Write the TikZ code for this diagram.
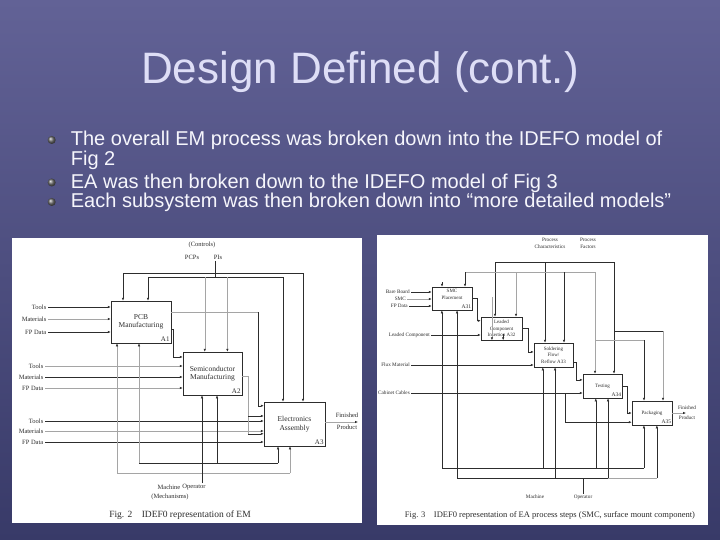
\documentclass[tikz,border=0pt]{standalone}
\usepackage{fontspec}
\setmainfont{Liberation Sans}
\newfontfamily\scanfont{Liberation Serif}
\usetikzlibrary{arrows.meta,calc,positioning}
\definecolor{SlideTop}{RGB}{98,98,150}
\definecolor{SlideBot}{RGB}{56,58,104}
\definecolor{TitleLilac}{RGB}{222,222,246}
\definecolor{BulletInk}{RGB}{246,246,252}
\definecolor{ScanInk}{RGB}{45,45,45}
\definecolor{ScanFaint}{RGB}{165,165,165}

\tikzset{
  slidetitle/.style={font=\fontsize{44}{48}\selectfont, text=TitleLilac, inner sep=0pt, anchor=base},
  pointtext/.style={font=\fontsize{20}{17.6}\selectfont, text=BulletInk, inner sep=0pt, anchor=north west, align=left},
  pointdot/.style={circle, minimum size=8pt, inner sep=0pt, ball color=gray!85!black},
  proc/.style={draw=ScanInk, line width=0.5pt, fill=white, inner sep=0pt, align=center, text=ScanInk,
    font=\scanfont\fontsize{7.5}{8.5}\selectfont},
  smallproc/.style={proc, font=\scanfont\fontsize{5}{6.6}\selectfont},
  boxid/.style={font=\scanfont\fontsize{7}{7}\selectfont, text=ScanInk, inner sep=1.5pt, anchor=south east},
  smallid/.style={boxid, font=\scanfont\fontsize{5.5}{6}\selectfont, inner sep=1pt},
  tag/.style={font=\scanfont\fontsize{6.5}{7.2}\selectfont, text=ScanInk, inner sep=1.5pt, align=center},
  smalltag/.style={tag, font=\scanfont\fontsize{5.2}{6.4}\selectfont, inner sep=1pt},
  figcaption/.style={font=\scanfont\fontsize{9.5}{10}\selectfont, text=ScanInk, inner sep=0pt},
  wire/.style={draw=ScanInk, line width=0.5pt},
  faint/.style={draw=ScanFaint, line width=0.5pt},
  flow/.style={wire, -{Latex[length=3pt,width=2.4pt]}},
  faintflow/.style={faint, -{Latex[length=3pt,width=2.4pt,color=ScanInk]}}
}

\begin{document}
\begin{tikzpicture}[x=1pt,y=-1pt]
    \useasboundingbox (0,0) rectangle (720,540);
    \shade[top color=SlideTop, bottom color=SlideBot] (0,0) rectangle (720,540);

    \node[slidetitle] (title) at (360,84) {Design Defined (cont.)};

    \node[pointdot] (dot1) at (51.7,140) {};
    \node[pointtext] (pt1) at (70.7,130.9) {The overall EM process was broken down into the IDEFO model of\\Fig 2};
    \node[pointdot] (dot2) at (51.7,182.5) {};
    \node[pointtext] (pt2) at (70.7,173.5) {EA was then broken down to the IDEFO model of Fig 3};
    \node[pointdot] (dot3) at (51.7,202) {};
    \node[pointtext] (pt3) at (70.7,192.9) {Each subsystem was then broken down into “more detailed models”};

    % Fig. 2 -- EM
    \fill[white] (12,238) rectangle (362,523);

    \node[proc, minimum width=60pt, minimum height=42pt] (a1) at (141,322) {PCB\\Manufacturing};
    \node[boxid] (a1id) at (a1.south east) {A1};
    \node[proc, minimum width=59pt, minimum height=43pt] (a2) at (212.5,373.5) {Semiconductor\\Manufacturing};
    \node[boxid] (a2id) at (a2.south east) {A2};
    \node[proc, minimum width=61pt, minimum height=44pt] (a3) at (294.5,424) {Electronics\\Assembly};
    \node[boxid] (a3id) at (a3.south east) {A3};
    \draw[line width=1.1pt, ScanInk] (a2.north east) -- (a2.south east);
    \draw[line width=1.1pt, ScanInk] (a3.north east) -- (a3.south east);

    \node[tag] (ctl2) at (202,245) {(Controls)};
    \node[tag] (pcp) at (192,257) {PCPs};
    \node[tag] (pis) at (218,257) {PIs};
    \coordinate (k1) at (123,273);
    \coordinate (k2) at (303,273);
    \coordinate (m1) at (148,277);
    \coordinate (m2) at (283,277);
    \coordinate (j2) at (215,277);
    \draw[wire] (pis.south -| j2) -- (j2);
    \draw[flow] (k1) -- (k2) -- (k2 |- a3.north);
    \draw[flow] (k1) -- (k1 |- a1.north);
    \draw[flow] (m1) -- (m2) -- (m2 |- a3.north);
    \draw[flow] (m1) -- (m1 |- a1.north);
    \coordinate (a2c1) at ($(a2.north west)!0.37!(a2.north east)$);
    \coordinate (a2c2) at ($(a2.north west)!0.75!(a2.north east)$);
    \draw[faintflow] (a2c1 |- m1) -- (a2c1);
    \draw[faintflow] (a2c2 |- m1) -- (a2c2);

    \node[tag, anchor=east] (a1in1) at (48,307) {Tools};
    \node[tag, anchor=east] (a1in2) at (48,319) {Materials};
    \node[tag, anchor=east] (a1in3) at (48,332) {FP Data};
    \draw[flow] (a1in1.east) -- (a1in1.east -| a1.west);
    \draw[faintflow] (a1in2.east) -- (a1in2.east -| a1.west);
    \draw[flow] (a1in3.east) -- (a1in3.east -| a1.west);

    \node[tag, anchor=east] (a2in1) at (45,366) {Tools};
    \node[tag, anchor=east] (a2in2) at (45,377) {Materials};
    \node[tag, anchor=east] (a2in3) at (45,388) {FP Data};
    \draw[faintflow] (a2in1.east) -- (a2in1.east -| a2.west);
    \draw[flow] (a2in2.east) -- (a2in2.east -| a2.west);
    \draw[faintflow] (a2in3.east) -- (a2in3.east -| a2.west);

    \node[tag, anchor=east] (a3in1) at (45,421) {Tools};
    \node[tag, anchor=east] (a3in2) at (45,431) {Materials};
    \node[tag, anchor=east] (a3in3) at (45,442) {FP Data};
    \draw[flow] (a3in1.east) -- (a3in1.east -| a3.west);
    \draw[faintflow] (a3in2.east) -- (a3in2.east -| a3.west);
    \draw[flow] (a3in3.east) -- (a3in3.east -| a3.west);

    % outputs between the boxes
    \coordinate (o1) at (173,329);
    \coordinate (a2i0) at ($(a2.north west)!0.12!(a2.south west)$);
    \draw[flow] (a1.east |- o1) -- (o1) |- (a2i0);
    \coordinate (o1b) at (258,312);
    \coordinate (a3i0) at ($(a3.north west)!0.09!(a3.south west)$);
    \draw[faint] (a1.east |- o1b) -- (o1b);
    \draw[flow] (o1b) |- (a3i0);
    \coordinate (o2) at (248,376);
    \coordinate (a3i1) at ($(a3.north west)!0.32!(a3.south west)$);
    \coordinate (a3i3) at ($(a3.north west)!0.72!(a3.south west)$);
    \draw[faint] (a2.east |- o2) -- (o2) -- (o2 |- a3i3);
    \draw[flow] (o2 |- a3i1) -- (a3i1);
    \draw[flow] (o2 |- a3i3) -- (a3i3);

    \node[tag] (prod2) at (347,421) {Finished\\[5pt]Product};
    \coordinate (p2) at (358,422);
    \draw[faintflow] (a3.east |- p2) -- (p2);

    % mechanisms
    \coordinate (mb1) at (117,473);
    \coordinate (mb2) at (290,473);
    \coordinate (ob1) at (139,463);
    \coordinate (ob2) at (278,463);
    \coordinate (mech2a) at (202,483);
    \coordinate (mech2b) at (217,463);
    \draw[faint] (mb1) -- (mb2);
    \draw[wire] (ob1) -- (ob2);
    \draw[faintflow] (mb1) -- (mb1 |- a1.south);
    \draw[faintflow] (ob1) -- (ob1 |- a1.south);
    \draw[flow] (mech2a) -- (mech2a |- a2.south);
    \draw[flow] (mech2b) -- (mech2b |- a2.south);
    \draw[faintflow] (mb2) -- (mb2 |- a3.south);
    \draw[flow] (ob2) -- (ob2 |- a3.south);

    \node[tag] (mach2) at (169,487) {Machine};
    \node[tag] (oper2) at (194,487) {Operator};
    \node[tag] (mech2) at (170,497) {(Mechanisms)};
    \node[figcaption] (cap2) at (180,515) {Fig. 2\quad IDEF0 representation of EM};

    % Fig. 3 -- EA process steps
    \fill[white] (377,235) rectangle (708,525);

    \node[smallproc, minimum width=40pt, minimum height=23pt] (b1) at (452,298.5) {SMC\\Placement\\[2pt]};
    \node[smallid] (b1id) at (b1.south east) {A31};
    \node[smallproc, minimum width=41pt, minimum height=23pt] (b2) at (501.5,328.5) {Leaded\\Component\\Insertion A32};
    \node[smallproc, minimum width=39pt, minimum height=24pt] (b3) at (553.5,355) {Soldering\\Flow/\\Reflow A33};
    \node[smallproc, minimum width=39pt, minimum height=24pt] (b4) at (602.5,386) {Testing};
    \node[smallid] (b4id) at (b4.south east) {A34};
    \node[smallproc, minimum width=40pt, minimum height=24pt] (b5) at (652,413) {Packaging};
    \node[smallid] (b5id) at (b5.south east) {A35};

    \node[smalltag] (pchar) at (550,243.5) {Process\\Characteristics};
    \node[smalltag] (pfac) at (588,243.5) {Process\\Factors};
    \coordinate (u1) at (495,262);
    \coordinate (u2) at (614,262);
    \coordinate (u3) at (545,262);
    \draw[wire] (u1) -- (u2);
    \draw[flow] (u1) -- (u1 |- b2.north);
    \draw[flow] (u3) -- (u3 |- b3.north);
    \draw[flow] (u2) -- (u2 |- b4.north);
    \coordinate (w1) at (465,272);
    \coordinate (w2) at (595,272);
    \coordinate (w3) at (516,272);
    \coordinate (w4) at (564,272);
    \coordinate (w5) at (442,282);
    \draw[faint] (w1) -- (w2);
    \draw[flow] (w1) -- (w1 |- b1.north);
    \draw[flow] (w5) -- (w5 |- b1.north);
    \draw[faintflow] (w3) -- (w3 |- b2.north);
    \draw[flow] (w4) -- (w4 |- b3.north);
    \draw[faintflow] (w2) -- (w2 |- b4.north);
    \coordinate (v1) at (614,331);
    \coordinate (v2) at (663,331);
    \coordinate (v3) at (595,340);
    \coordinate (v4) at (644,340);
    \draw[wire] (v1) -- (v2);
    \draw[faintflow] (v2) -- (v2 |- b5.north);
    \draw[faint] (v3) -- (v4);
    \draw[flow] (v4) -- (v4 |- b5.north);

    \node[smalltag, anchor=east] (bare) at (411,292) {Bare Board};
    \node[smalltag, anchor=east] (smc) at (407,299) {SMC};
    \node[smalltag, anchor=east] (fpd3) at (409,306) {FP Data};
    \draw[flow] (bare.east) -- (bare.east -| b1.west);
    \draw[faintflow] (smc.east) -- (smc.east -| b1.west);
    \draw[flow] (fpd3.east) -- (fpd3.east -| b1.west);
    \node[smalltag, anchor=east] (leaded) at (431,335) {Leaded Component};
    \draw[flow] (leaded.east) -- (leaded.east -| b2.west);
    \node[smalltag, anchor=east] (flux) at (411,365) {Flux Material};
    \draw[flow] (flux.east) -- (flux.east -| b3.west);
    \node[smalltag, anchor=east] (cabinet) at (411,393) {Cabinet Cables};
    \draw[flow] (cabinet.east) -- (cabinet.east -| b4.west);

    \coordinate (o31) at (477,298);
    \coordinate (b2i1) at ($(b2.north west)!0.17!(b2.south west)$);
    \draw[flow] (b1.east |- o31) -- (o31) |- (b2i1);
    \coordinate (o32) at (528,328);
    \coordinate (b3i1) at ($(b3.north west)!0.375!(b3.south west)$);
    \draw[flow] (b2.east |- o32) -- (o32) |- (b3i1);
    \coordinate (o33) at (576,362);
    \coordinate (b4i1) at ($(b4.north west)!0.25!(b4.south west)$);
    \draw[flow] (b3.east |- o33) -- (o33) |- (b4i1);
    \coordinate (o34) at (627,386);
    \coordinate (b5i1) at ($(b5.north west)!0.5!(b5.south west)$);
    \coordinate (b5i2) at ($(b5.north west)!0.875!(b5.south west)$);
    \draw[flow] (b4.east |- o34) -- (o34) |- (b5i1);
    \coordinate (cabk) at (565,393);
    \draw[flow] (cabk) |- (b5i2);

    \node[smalltag] (prod3) at (687,413) {Finished\\[4pt]Product};
    \coordinate (p3) at (686,413);
    \draw[faintflow] (b5.east |- p3) -- (p3);

    % mechanisms
    \coordinate (mm1) at (442,468);
    \coordinate (mm2) at (644,468);
    \coordinate (oo1) at (457,478);
    \coordinate (oo2) at (608,478);
    \draw[wire] (mm1) -- (mm2);
    \draw[wire] (oo1) -- (oo2);
    \coordinate (b1m1) at ($(b1.south west)!0.25!(b1.south east)$);
    \coordinate (b1m2) at ($(b1.south west)!0.625!(b1.south east)$);
    \coordinate (b2m1) at ($(b2.south west)!0.27!(b2.south east)$);
    \coordinate (b2m2) at ($(b2.south west)!0.54!(b2.south east)$);
    \coordinate (b3m1) at ($(b3.south west)!0.23!(b3.south east)$);
    \coordinate (b3m2) at ($(b3.south west)!0.54!(b3.south east)$);
    \coordinate (b4m1) at ($(b4.south west)!0.33!(b4.south east)$);
    \coordinate (b4m2) at ($(b4.south west)!0.64!(b4.south east)$);
    \coordinate (b5m1) at ($(b5.south west)!0.3!(b5.south east)$);
    \coordinate (b5m2) at ($(b5.south west)!0.62!(b5.south east)$);
    \draw[flow] (b1m1 |- mm1) -- (b1m1);
    \draw[flow] (b1m2 |- oo1) -- (b1m2);
    \draw[faintflow] ([yshift=43pt]b2m1) -- (b2m1);
    \draw[flow] ([yshift=6pt]b2m2) -- (b2m2);
    \draw[flow] (b3m1 |- mm1) -- (b3m1);
    \draw[flow] (b3m2 |- oo1) -- (b3m2);
    \draw[flow] (b4m1 |- mm1) -- (b4m1);
    \draw[flow] (b4m2 |- oo1) -- (b4m2);
    \draw[flow] (b5m1 |- mm1) -- (b5m1);
    \draw[flow] (b5m2 |- oo1) -- (b5m2);
    \draw[faint] (oo2) -- (b5m2 |- oo2);

    \node[smalltag] (mach3) at (535,497) {Machine};
    \node[smalltag] (oper3) at (583,497) {Operator};
    \draw[wire] (oper3.north) -- (oper3.north |- oo1);
    \node[figcaption, font=\scanfont\fontsize{8.5}{9}\selectfont] (cap3) at (550,515) {Fig. 3\quad IDEF0 representation of EA process steps (SMC, surface mount component)};
\end{tikzpicture}
\end{document}
